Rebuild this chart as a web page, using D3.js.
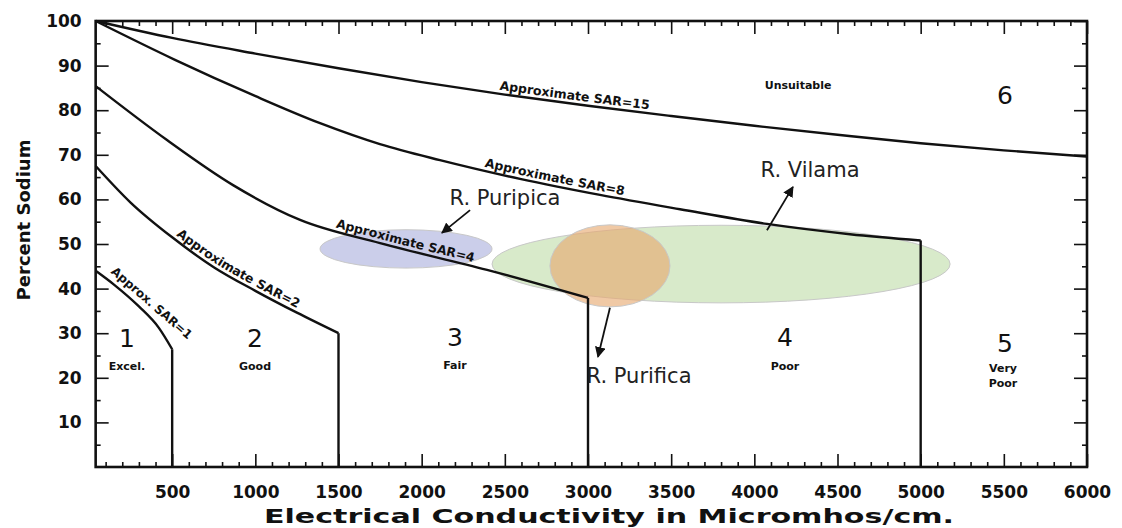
<!DOCTYPE html>
<html>
<head>
<meta charset="utf-8">
<script src="https://cdn.jsdelivr.net/npm/d3@7"></script>
<style>
  body { margin: 0; background: #fff; }
  svg { display: block; font-family: "DejaVu Sans", sans-serif; }
</style>
</head>
<body>
<svg id="chart"></svg>
<script>
// ---- data ----
let xTicks = [500, 1000, 1500, 2000, 2500, 3000, 3500, 4000, 4500, 5000, 5500, 6000];
let yTicks = [10, 20, 30, 40, 50, 60, 70, 80, 90, 100];

// approximate SAR lines: [EC, percent sodium]
let sar15 = [[40, 100], [500, 96.2], [1000, 92.7], [1500, 89.4], [2000, 86.3], [2500, 83.5], [3000, 81], [3500, 78.7], [4000, 76.5], [4500, 74.5], [5000, 72.6], [5500, 71], [6000, 69.6]];
let sar8 = [[40, 100], [517, 91.3], [998, 83.2], [1389, 77.1], [1749, 72.4], [2110, 68.8], [2591, 64.6], [3072, 61], [3553, 57.8], [4076, 54.5], [4575, 52.2], [5000, 50.8]];
let sar4 = [[40, 85.4], [469, 73.3], [866, 63.2], [1269, 55.4], [1750, 50.2], [2393, 44.2], [3000, 37.9]];
let sar2 = [[40, 67.5], [250, 59.3], [500, 51.5], [750, 44.8], [1000, 39.5], [1250, 34.6], [1500, 30]];
let sar1 = [[40, 44], [150, 40.9], [300, 36], [420, 31.2], [500, 26.4]];

let classNums = ["1", "2", "3", "4", "5", "6"];
let classNames = [["Excel."], ["Good"], ["Fair"], ["Poor"], ["Very", "Poor"], ["Unsuitable"]];

// rivers: ellipse centre and half widths in data units
let rivers = ["R. Puripica", "R. Vilama", "R. Purifica"];
let riverEC = [1906, 3800, 3132];
let riverNa = [48.9, 45.5, 45.1];
let riverECHalf = [517, 1377, 361];
let riverNaHalf = [4.3, 8.7, 9.2];

let width = 1122;
let height = 528;

let svg = d3.select("svg").attr("width", width).attr("height", height);

let xScale = d3.scaleLinear().domain([0, 6000]).range([89, 1087]);
let yScale = d3.scaleLinear().domain([0, 100]).range([467, 21]);

let plotLeft = xScale(40);
let plotRight = xScale(6000);
let plotTop = yScale(100);
let plotBottom = yScale(0);

// ---- river ellipses (under the lines) ----
let riverFill = ["#b7bbe2", "#c9e2b6", "#e6a86e"];
let riverOpacity = [0.72, 0.72, 0.62];
rivers.forEach((r, i) => {
  svg.append("ellipse")
    .attr("cx", xScale(riverEC[i]))
    .attr("cy", yScale(riverNa[i]))
    .attr("rx", xScale(riverECHalf[i]) - xScale(0))
    .attr("ry", yScale(0) - yScale(riverNaHalf[i]))
    .attr("fill", riverFill[i])
    .attr("fill-opacity", riverOpacity[i])
    .attr("stroke", "#c8c8c8")
    .attr("stroke-width", 1);
});

// ---- axes (ticks point inward on all four sides) ----
let minorX = d3.range(100, 6000, 100).filter((d) => d % 500 !== 0);
let minorY = d3.range(5, 100, 10);

let drawAxis = (axis, tf) => {
  let g = svg.append("g").attr("transform", tf).call(axis);
  g.attr("font-family", null).attr("font-size", null);
  g.select(".domain").remove();
  g.selectAll("line").attr("stroke", "#111").attr("stroke-width", 1.6);
  g.selectAll("text")
    .attr("fill", "#111")
    .style("font-family", "'DejaVu Sans', sans-serif")
    .style("font-size", "17px")
    .style("font-weight", "bold");
  return g;
};

drawAxis(d3.axisBottom(xScale).tickValues(xTicks).tickSize(-13).tickPadding(19).tickFormat(d3.format("d")), "translate(0," + plotBottom + ")");
drawAxis(d3.axisBottom(xScale).tickValues(minorX).tickSize(-5).tickFormat(""), "translate(0," + plotBottom + ")");
drawAxis(d3.axisTop(xScale).tickValues(xTicks).tickSize(-13).tickFormat(""), "translate(0," + plotTop + ")");
drawAxis(d3.axisTop(xScale).tickValues(minorX).tickSize(-5).tickFormat(""), "translate(0," + plotTop + ")");
drawAxis(d3.axisLeft(yScale).tickValues(yTicks).tickSize(-13).tickPadding(14), "translate(" + plotLeft + ",0)");
drawAxis(d3.axisLeft(yScale).tickValues(minorY).tickSize(-5).tickFormat(""), "translate(" + plotLeft + ",0)");
drawAxis(d3.axisRight(yScale).tickValues(yTicks).tickSize(-13).tickFormat(""), "translate(" + plotRight + ",0)");
drawAxis(d3.axisRight(yScale).tickValues(minorY).tickSize(-5).tickFormat(""), "translate(" + plotRight + ",0)");

svg.append("rect")
  .attr("x", plotLeft).attr("y", plotTop)
  .attr("width", plotRight - plotLeft).attr("height", plotBottom - plotTop)
  .attr("fill", "none").attr("stroke", "#111").attr("stroke-width", 2.6);

// ---- SAR curves ----
let line = d3.line()
  .x((d) => xScale(d[0]))
  .y((d) => yScale(d[1]))
  .curve(d3.curveMonotoneX);

let curves = [
  { id: "sar15", pts: sar15, label: "Approximate SAR=15", at: 2913 },
  { id: "sar8", pts: sar8, label: "Approximate SAR=8", at: 2790 },
  { id: "sar4", pts: sar4, label: "Approximate SAR=4", at: 1890 },
  { id: "sar2", pts: sar2, label: "Approximate SAR=2", at: 862 },
  { id: "sar1", pts: sar1, label: null }
];

curves.forEach((c) => {
  svg.append("path")
    .attr("id", c.id)
    .attr("d", line(c.pts))
    .attr("fill", "none")
    .attr("stroke", "#111")
    .attr("stroke-width", 2.4);
});

// class boundaries drop from the end of each curve down to the x axis
[sar1, sar2, sar4, sar8].forEach((pts) => {
  let last = pts[pts.length - 1];
  svg.append("line")
    .attr("x1", xScale(last[0])).attr("x2", xScale(last[0]))
    .attr("y1", yScale(last[1])).attr("y2", yScale(0))
    .attr("stroke", "#111").attr("stroke-width", 2.4);
});

// find the distance along a path where it reaches a given x
let lengthAtX = (node, px) => {
  let lo = 0, hi = node.getTotalLength();
  for (let i = 0; i < 30; i++) {
    let mid = (lo + hi) / 2;
    if (node.getPointAtLength(mid).x < px) lo = mid; else hi = mid;
  }
  return lo;
};

curves.filter((c) => c.label).forEach((c) => {
  let node = document.getElementById(c.id);
  svg.append("text")
    .attr("dy", -4)
    .style("font-size", "12.5px")
    .style("font-weight", "bold")
    .attr("fill", "#111")
    .append("textPath")
    .attr("href", "#" + c.id)
    .attr("text-anchor", "middle")
    .attr("startOffset", lengthAtX(node, xScale(c.at)))
    .text(c.label);
});

svg.append("text")
  .attr("transform", "translate(" + xScale(345) + "," + yScale(35.4) + ") rotate(41)")
  .attr("dy", -4)
  .attr("text-anchor", "middle")
  .style("font-size", "12px")
  .style("font-weight", "bold")
  .attr("fill", "#111")
  .text("Approx. SAR=1");

// ---- water class labels ----
let numPos = [[228, 26.9], [998, 26.9], [2200, 27.2], [4184, 27.2], [5507, 25.8], [5507, 81.4]];
let namePos = [[228, 21.7], [998, 21.7], [2200, 21.9], [4184, 21.7], [5495, 21.4], [4263, 84.8]];

classNums.forEach((n, i) => {
  svg.append("text")
    .attr("x", xScale(numPos[i][0])).attr("y", yScale(numPos[i][1]))
    .attr("text-anchor", "middle")
    .style("font-size", "25px")
    .attr("fill", "#111")
    .text(n);
  classNames[i].forEach((s, j) => {
    svg.append("text")
      .attr("x", xScale(namePos[i][0])).attr("y", yScale(namePos[i][1]) + j * 15)
      .attr("text-anchor", "middle")
      .style("font-size", "11px")
      .style("font-weight", "bold")
      .attr("fill", "#111")
      .text(s);
  });
});

// ---- river annotations ----
svg.append("defs").append("marker")
  .attr("id", "head")
  .attr("viewBox", "0 0 10 10")
  .attr("refX", 9).attr("refY", 5)
  .attr("markerWidth", 6).attr("markerHeight", 6)
  .attr("orient", "auto")
  .append("path")
  .attr("d", "M0,0 L10,5 L0,10 z")
  .attr("fill", "#111");

let labelPos = [[2501, 58.7], [4335, 65], [3307, 18.8]];
let arrowFrom = [[2291, 57.6], [4076, 53.1], [3132, 35.7]];
let arrowTo = [[2122, 52.5], [4232, 62.8], [3060, 24.7]];

rivers.forEach((r, i) => {
  svg.append("text")
    .attr("x", xScale(labelPos[i][0])).attr("y", yScale(labelPos[i][1]))
    .attr("text-anchor", "middle")
    .style("font-size", "21px")
    .attr("fill", "#222")
    .text(r);
  svg.append("line")
    .attr("x1", xScale(arrowFrom[i][0])).attr("y1", yScale(arrowFrom[i][1]))
    .attr("x2", xScale(arrowTo[i][0])).attr("y2", yScale(arrowTo[i][1]))
    .attr("stroke", "#111").attr("stroke-width", 1.8)
    .attr("marker-end", "url(#head)");
});

// ---- axis titles ----
svg.append("text")
  .attr("transform", "translate(23," + 220 + ") rotate(-90)")
  .attr("text-anchor", "middle")
  .attr("dominant-baseline", "central")
  .style("font-size", "18px")
  .style("font-weight", "bold")
  .attr("fill", "#111")
  .text("Percent Sodium");

svg.append("text")
  .attr("x", 609).attr("y", 523)
  .attr("text-anchor", "middle")
  .attr("textLength", 690)
  .attr("lengthAdjust", "spacingAndGlyphs")
  .style("font-size", "19px")
  .style("font-weight", "bold")
  .attr("fill", "#111")
  .text("Electrical Conductivity in Micromhos/cm.");
</script>
</body>
</html>
